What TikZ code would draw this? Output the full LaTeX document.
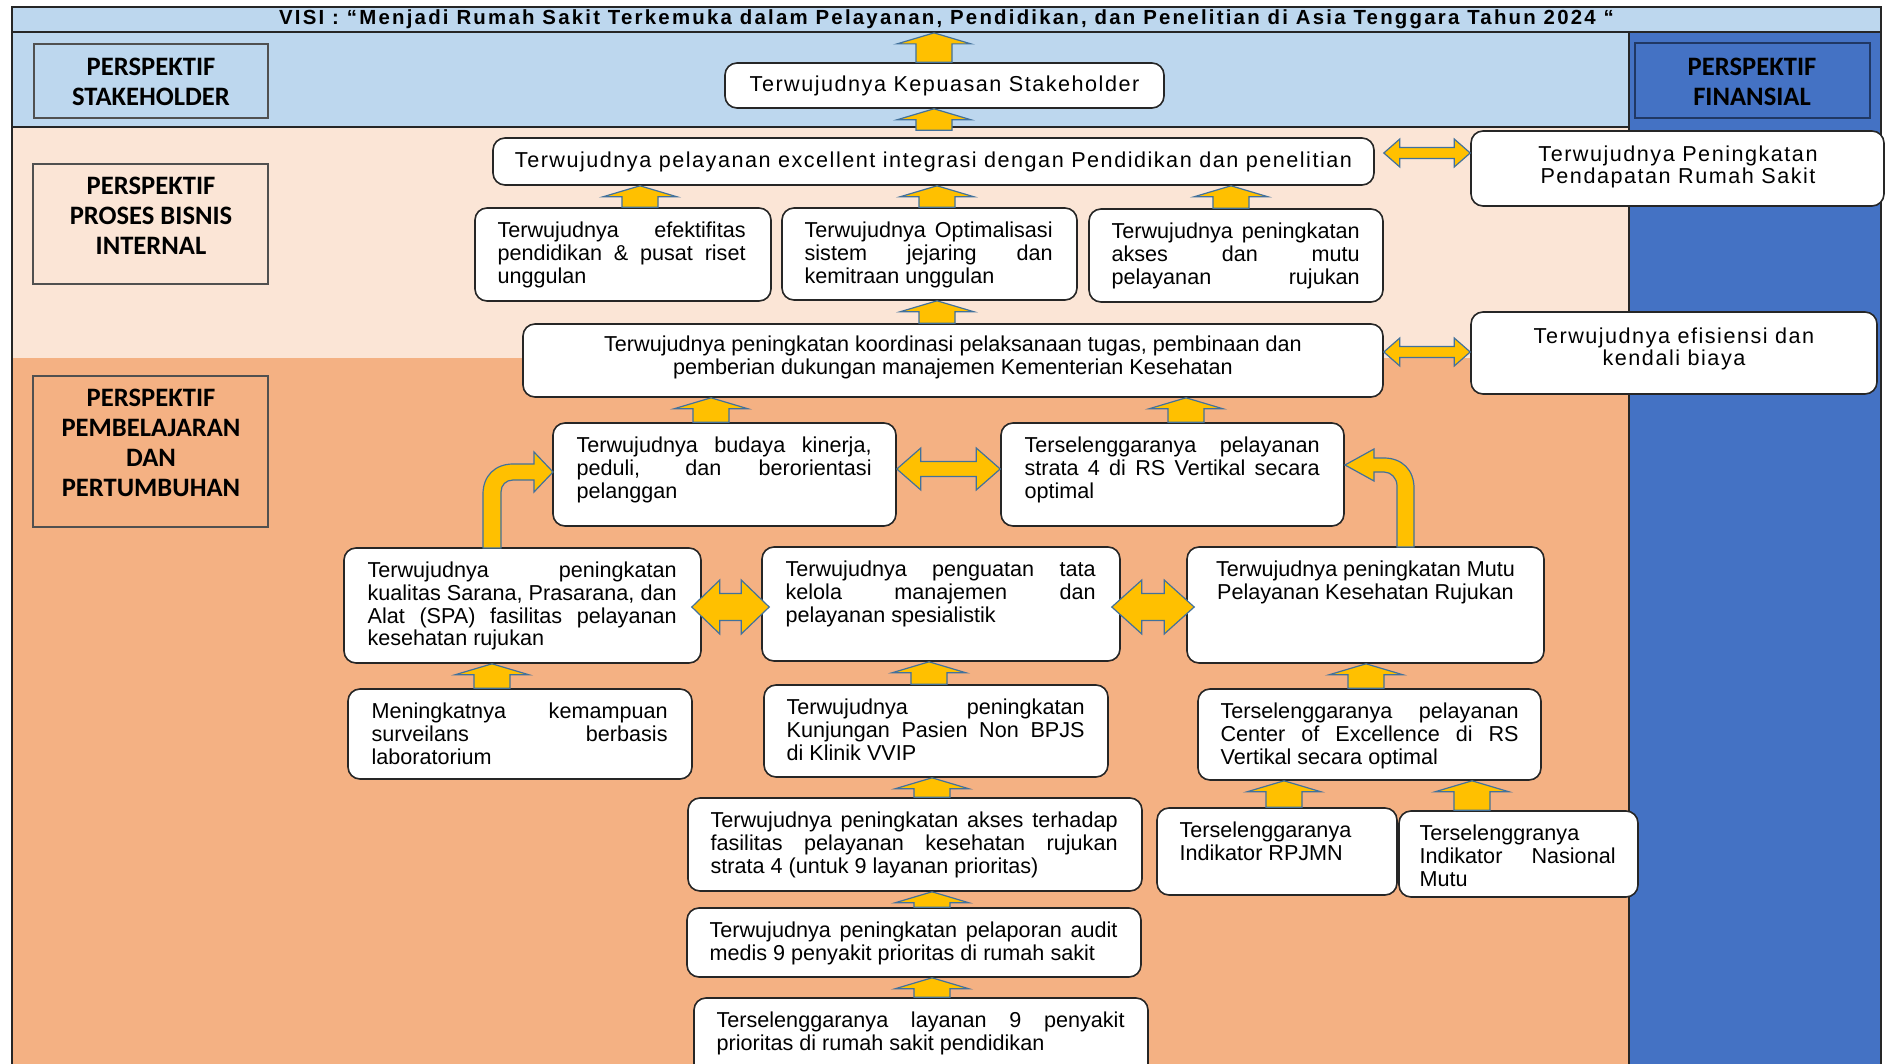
\documentclass[tikz,border=0pt]{standalone}
\usepackage{fontspec}
\setmainfont{Liberation Sans}
\newfontfamily\spacedfont[LetterSpace=7]{Liberation Sans}
\newfontfamily\visifont[LetterSpace=10.9]{Liberation Sans}
\newfontfamily\labelfont{Carlito}
\usetikzlibrary{calc}

\definecolor{bandblue}{HTML}{BDD7EE}
\definecolor{bandpeach}{HTML}{FBE5D6}
\definecolor{bandorange}{HTML}{F4B183}
\definecolor{colblue}{HTML}{4472C4}
\definecolor{colblueedge}{HTML}{203864}
\definecolor{arrfill}{HTML}{FFC000}
\definecolor{arredge}{HTML}{41719C}
\definecolor{frameline}{HTML}{262626}
\definecolor{labeledge}{HTML}{505050}

% one justified line of a goal text: interword glue stretched to the full width
\newcommand{\jl}[1]{{\spaceskip=\fontdimen2\font plus 20em minus \fontdimen4\font
  \makebox[\linewidth][s]{#1}}}

\tikzset{
  goal/.style={draw=black!85, line width=0.8pt, fill=white, rounded corners=6pt, inner sep=0pt},
  persp/.style={draw=labeledge, line width=1.1pt, inner sep=0pt},
  txt/.style={inner sep=0pt, align=flush left, font=\fontsize{10.8}{11.4}\selectfont},
  ctxt/.style={inner sep=0pt, align=flush center, font=\fontsize{10.8}{11.4}\selectfont},
  stxt/.style={inner sep=0pt, align=flush center, font=\spacedfont\fontsize{10.8}{11.4}\selectfont},
  lbl/.style={inner sep=0pt, align=flush center, font=\labelfont\bfseries\fontsize{13.3}{15}\selectfont},
  blockarr/.style={fill=arrfill, draw=arredge, line width=0.6pt, line join=miter},
}

% goal box from its corners (pixel units)
\newcommand{\goalbox}[5]{%
  \node[goal, minimum width={(#4-#2)*0.5pt}, minimum height={(#5-#3)*0.5pt}]
    (#1) at ({(#2+#4)/2},{(#3+#5)/2}) {};}
% top aligned text inside a goal box
\newcommand{\goaltext}[5]{%
  \node[txt, text width=#4, anchor=north west] (#1) at ([shift={(#3,14)}]#2.north west) {\strut#5};}
% upward block arrow at x from a lower anchor to an upper anchor
\newcommand{\upArr}[3]{%
  \path (#1,0 |- #2) coordinate (ua) (#1,0 |- #3) coordinate (ub);
  \filldraw[blockarr] ([xshift=-9pt]ua) -- ([xshift=-9pt,yshift=-5.5pt]ub)
    -- ([xshift=-18.5pt,yshift=-5.5pt]ub) -- (ub) -- ([xshift=18.5pt,yshift=-5.5pt]ub)
    -- ([xshift=9pt,yshift=-5.5pt]ub) -- ([xshift=9pt]ua) -- cycle;}
% horizontal double block arrow
\newcommand{\hArr}[6]{%
  \path (#2 |- 0,#1) coordinate (ha) (#3 |- 0,#1) coordinate (hb);
  \filldraw[blockarr] (ha) -- ([xshift=#6,yshift=#4]ha) -- ([xshift=#6,yshift=#5]ha)
    -- ([xshift=-#6,yshift=#5]hb) -- ([xshift=-#6,yshift=#4]hb) -- (hb)
    -- ([xshift=-#6,yshift=-#4]hb) -- ([xshift=-#6,yshift=-#5]hb)
    -- ([xshift=#6,yshift=-#5]ha) -- ([xshift=#6,yshift=-#4]ha) -- cycle;}

\begin{document}
\begin{tikzpicture}[x=0.5pt,y=-0.5pt]
\useasboundingbox (0,0) rectangle (1885,1064);
\fill[white] (0,0) rectangle (1885,1064);
\clip (0,0) rectangle (1885,1064);

% perspective bands
\fill[bandblue]   (12,32)   rectangle (1629,127);
\fill[bandpeach]  (12,127)  rectangle (1629,358);
\fill[bandorange] (12,358)  rectangle (1629,1080);
\fill[colblue]    (1629,32) rectangle (1881,1080);
\draw[frameline, line width=0.9pt] (12,32) -- (12,1080) (1881,32) -- (1881,1080)
  (12,127) -- (1629,127) (1629,32) -- (1629,1080);

% vision header
\node[draw=frameline, line width=0.9pt, fill=bandblue, minimum width=934.5pt,
  minimum height=12.5pt, inner sep=0pt, font=\visifont\bfseries\fontsize{10.2}{12}\selectfont]
  (visi) at (946.5,19.5) {VISI : “Menjadi Rumah Sakit Terkemuka dalam Pelayanan, Pendidikan, dan Penelitian di Asia Tenggara Tahun 2024 “};

% perspective labels
\node[persp, fill=bandblue, minimum width=117pt, minimum height=37pt] (lstake) at (151,81) {};
\node[lbl] (lstaket) at (151,82) {PERSPEKTIF\\STAKEHOLDER};
\node[persp, fill=bandpeach, minimum width=117.5pt, minimum height=60pt] (lproc) at (150.5,224) {};
\node[lbl] (lproct) at (151,216) {PERSPEKTIF\\PROSES BISNIS\\INTERNAL};
\node[persp, fill=bandorange, minimum width=117.5pt, minimum height=75.5pt] (llearn) at (150.5,451.5) {};
\node[lbl] (llearnt) at (151,443) {PERSPEKTIF\\PEMBELAJARAN\\DAN\\PERTUMBUHAN};
\node[persp, draw=colblueedge, fill=colblue, minimum width=117.5pt, minimum height=37.5pt] (lfin) at (1752.5,80.5) {};
\node[lbl] (lfint) at (1752,82) {PERSPEKTIF\\FINANSIAL};

% goal boxes
\goalbox{g1}{725}{63}{1164}{108}
\goalbox{g2}{493}{138}{1374}{185}
\goalbox{g3}{1471}{131}{1884}{206}
\goalbox{g4}{475}{208}{771}{301}
\goalbox{g5}{782}{208}{1077}{300}
\goalbox{g6}{1089}{209}{1383}{302}
\goalbox{g7}{523}{324}{1383}{397}
\goalbox{g8}{1471}{312}{1877}{394}
\goalbox{g9}{553}{423}{896}{526}
\goalbox{g10}{1001}{423}{1344}{526}
\goalbox{g11}{344}{548}{701}{663}
\goalbox{g12}{762}{547}{1120}{661}
\goalbox{g13}{1187}{547}{1544}{663}
\goalbox{g14}{348}{689}{692}{779}
\goalbox{g15}{764}{685}{1108}{777}
\goalbox{g16}{1198}{689}{1541}{780}
\goalbox{g17}{688}{798}{1142}{891}
\goalbox{g18}{1157}{808}{1397}{895}
\goalbox{g19}{1399}{811}{1638}{897}
\goalbox{g20}{687}{908}{1141}{977}
\goalbox{g21}{694}{998}{1148}{1090}

% goal texts
\node[stxt] (t1) at (g1.center) {Terwujudnya Kepuasan Stakeholder};
\node[stxt] (t2) at (g2.center) {Terwujudnya pelayanan excellent integrasi dengan Pendidikan dan penelitian};
\node[stxt] (t3) at (1678,167) {Terwujudnya Peningkatan\\Pendapatan Rumah Sakit};
\goaltext{t4}{g4}{23}{124pt}{\jl{Terwujudnya efektifitas}\\\jl{pendidikan \& pusat riset}\\unggulan}
\goaltext{t5}{g5}{23}{124pt}{\jl{Terwujudnya Optimalisasi}\\\jl{sistem jejaring dan}\\kemitraan unggulan}
\goaltext{t6}{g6}{23}{124pt}{\jl{Terwujudnya peningkatan}\\\jl{akses dan mutu}\\\jl{pelayanan rujukan}}
\node[ctxt] (t7) at ([yshift=1.5pt]g7.center) {Terwujudnya peningkatan koordinasi pelaksanaan tugas, pembinaan dan\\pemberian dukungan manajemen Kementerian Kesehatan};
\node[stxt] (t8) at ([yshift=2pt]g8.center) {Terwujudnya efisiensi dan\\kendali biaya};
\goaltext{t9}{g9}{24}{147.5pt}{\jl{Terwujudnya budaya kinerja,}\\\jl{peduli, dan berorientasi}\\pelanggan}
\goaltext{t10}{g10}{24}{147.5pt}{\jl{Terselenggaranya pelayanan}\\\jl{strata 4 di RS Vertikal secara}\\optimal}
\goaltext{t11}{g11}{24}{154.5pt}{\jl{Terwujudnya peningkatan}\\\jl{kualitas Sarana, Prasarana, dan}\\\jl{Alat (SPA) fasilitas pelayanan}\\kesehatan rujukan}
\goaltext{t12}{g12}{24}{155pt}{\jl{Terwujudnya penguatan tata}\\\jl{kelola manajemen dan}\\pelayanan spesialistik}
\node[ctxt, anchor=north] (t13) at ([yshift=-7pt]g13.north) {\strut Terwujudnya peningkatan Mutu\\Pelayanan Kesehatan Rujukan};
\goaltext{t14}{g14}{24}{148pt}{\jl{Meningkatnya kemampuan}\\\jl{surveilans berbasis}\\laboratorium}
\goaltext{t15}{g15}{23}{149pt}{\jl{Terwujudnya peningkatan}\\\jl{Kunjungan Pasien Non BPJS}\\di Klinik VVIP}
\goaltext{t16}{g16}{23}{149pt}{\jl{Terselenggaranya pelayanan}\\\jl{Center of Excellence di RS}\\Vertikal secara optimal}
\goaltext{t17}{g17}{23}{203.5pt}{\jl{Terwujudnya peningkatan akses terhadap}\\\jl{fasilitas pelayanan kesehatan rujukan}\\strata 4 (untuk 9 layanan prioritas)}
\goaltext{t18}{g18}{23}{96pt}{Terselenggaranya\\Indikator RPJMN}
\goaltext{t19}{g19}{21}{98pt}{Terselenggranya\\\jl{Indikator Nasional}\\Mutu}
\goaltext{t20}{g20}{23}{204pt}{\jl{Terwujudnya peningkatan pelaporan audit}\\medis 9 penyakit prioritas di rumah sakit}
\goaltext{t21}{g21}{23}{204pt}{\jl{Terselenggaranya layanan 9 penyakit}\\prioritas di rumah sakit pendidikan}

% upward block arrows
\upArr{934}{g1.north}{visi.south}
\coordinate (g2top) at ([yshift=3.5pt]g2.north);
\upArr{934}{g2top}{g1.south}
\upArr{640}{g4.north}{g2.south}
\upArr{937}{g5.north}{g2.south}
\upArr{1231}{g6.north}{g2.south}
\upArr{937}{g7.north}{g5.south}
\upArr{711}{g9.north}{g7.south}
\upArr{1186}{g10.north}{g7.south}
\upArr{492}{g14.north}{g11.south}
\upArr{929}{g15.north}{g12.south}
\upArr{1366}{g16.north}{g13.south}
\upArr{932}{g17.north}{g15.south}
\upArr{932}{g20.north}{g17.south}
\upArr{932}{g21.north}{g20.south}
\upArr{1284}{g18.north}{g16.south}
\upArr{1472}{g19.north}{g16.south}

% horizontal double arrows
\coordinate (h1a) at ([xshift=4.5pt]g2.east);
\hArr{153}{h1a}{g3.west}{7pt}{2.75pt}{8pt}
\hArr{352}{g7.east}{g8.west}{7pt}{2.75pt}{8pt}
\hArr{469}{g9.east}{g10.west}{10.5pt}{3.75pt}{12pt}
\coordinate (h4a) at ([xshift=-5pt]g11.east);
\coordinate (h4b) at ([xshift=4pt]g12.west);
\hArr{607}{h4a}{h4b}{13.5pt}{6.75pt}{14pt}
\coordinate (h5a) at ([xshift=-4.5pt]g12.east);
\coordinate (h5b) at ([xshift=4pt]g13.west);
\hArr{607}{h5a}{h5b}{13.5pt}{6.75pt}{15pt}

% bent arrows into the culture and strata-4 goals
\filldraw[blockarr] (483,548) -- (483,494) .. controls (483,476) and (495,464) .. (513,464)
  -- (534,464) -- (534,452) -- (553,472) -- (534,492) -- (534,480) -- (513,480)
  .. controls (506,480) and (501,485) .. (501,492) -- (501,548) -- cycle;
\filldraw[blockarr] (1414,547) -- (1414,488) .. controls (1414,470) and (1402,458) .. (1384,458)
  -- (1374,458) -- (1374,449) -- (1345,465) -- (1374,481) -- (1374,472) -- (1384,472)
  .. controls (1391,472) and (1397,478) .. (1397,486) -- (1397,547) -- cycle;
\end{tikzpicture}
\end{document}
